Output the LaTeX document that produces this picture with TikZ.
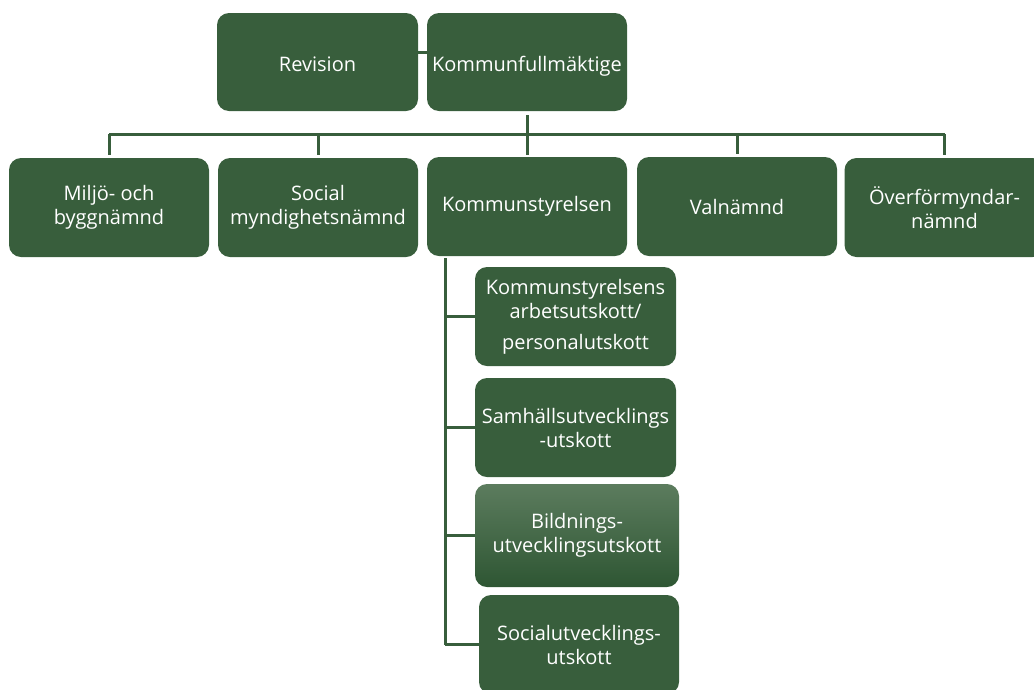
\documentclass[tikz,border=0pt]{standalone}
\usepackage{fontspec}
\setmainfont{Open Sans}
\definecolor{boxgreen}{RGB}{56,94,60}
\definecolor{shadetop}{RGB}{92,124,94}
\definecolor{shadebot}{RGB}{46,86,51}
\begin{document}
\begin{tikzpicture}[x=1pt,y=-1pt,
  box/.style={draw=none,fill=boxgreen,rounded corners=12pt,text=white,align=center,
    font=\fontsize{20}{24}\selectfont,inner sep=0pt,minimum width=200pt,minimum height=99pt},
  toprow/.style={text height=18pt,text depth=0pt,minimum height=98pt},
  conn/.style={draw=boxgreen,line width=3pt}]
\useasboundingbox (0,0) rectangle (1034,689);
\node[box,toprow,minimum width=201pt] (rev) at (317.5,62) {Revision};
\node[box,toprow] (kf) at (527,62) {Kommunfullmäktige};
\node[box] (miljo) at (109,207.5) {Miljö- och\\byggnämnd};
\node[box] (social) at (318,207.5) {Social\\myndighetsnämnd};
\node[box] (ks) at (527,206.5) {Kommunstyrelsen};
\node[box] (val) at (737,206.5) {Valnämnd};
\node[box] (over) at (944.5,207.5) {Överförmyndar-\\nämnd};
\node[box,minimum width=201pt] (s1) at (575.5,316.5) {Kommunstyrelsens\\arbetsutskott/\\[7pt]personalutskott};
\node[box,minimum width=201pt] (s2) at (575.5,427.5) {Samhällsutvecklings\\-utskott};
\node[box,fill=none,top color=shadetop,bottom color=shadebot,minimum width=204pt,minimum height=103pt] (s3) at (577,535.5) {Bildnings-\\utvecklingsutskott};
\node[box] (s4) at (579,644.5) {Socialutvecklings-\\utskott};
% connectors
\draw[conn] ([yshift=10pt]rev.east) -- ([yshift=10pt]kf.west);
\coordinate (bus) at (527,134);
\draw[conn,shorten <=4pt,shorten >=2pt] (kf.south) -- (ks.north);
\draw[conn] (miljo.north |- bus) -- (over.north |- bus);
\foreach \n in {miljo,social,val,over}{
  \draw[conn,shorten >=3pt] (\n.north |- bus) -- (\n.north);
}
\coordinate (sp0) at (445,258);
\draw[conn] (sp0) -- (sp0 |- s4.west);
\foreach \n in {s1,s2,s3,s4}{
  \draw[conn] (sp0 |- \n.west) -- (\n.west);
}
\end{tikzpicture}
\end{document}
